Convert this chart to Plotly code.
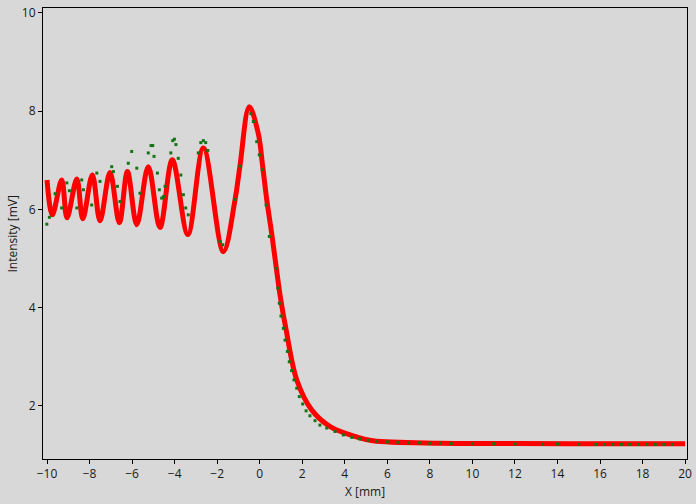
import plotly.graph_objects as go

# Red (fitted) curve: key points
red_x = [-10.0, -9.75, -9.31, -9.06, -8.60, -8.32, -7.87, -7.51, -7.04, -6.60,
         -6.22, -5.78, -5.24, -4.69, -4.11, -3.38, -2.65, -1.71, -1.16, -0.93,
         -0.49, -0.07, 0.14, 0.33, 0.56, 0.77, 0.99, 1.24, 1.74, 2.44, 3.31,
         4.56, 5.33, 8.48, 12.0, 16.0, 20.0]
red_y = [6.60, 5.89, 6.60, 5.83, 6.62, 5.81, 6.70, 5.77, 6.75, 5.73,
         6.77, 5.69, 6.87, 5.63, 7.01, 5.49, 7.25, 5.14, 6.20, 6.88,
         8.09, 7.55, 6.87, 6.20, 5.52, 4.84, 4.16, 3.55, 2.53, 1.92, 1.58,
         1.37, 1.29, 1.24, 1.235, 1.23, 1.23]

green_x = [-10.01, -9.89, -9.62, -9.31, -9.07, -8.95, -8.60, -8.37, -8.29, -7.90,
           -7.66, -7.51, -6.96, -6.88, -6.69, -6.57, -6.18, -6.02, -5.78, -5.63,
           -5.24, -5.11, -5.03, -4.97, -4.81, -4.72, -4.61, -4.53, -4.45, -4.18,
           -4.09, -4.01, -3.94, -3.83, -3.71, -3.59, -3.48, -3.36, -2.89, -2.77,
           -2.65, -2.54, -2.44, -1.87, -1.74, -1.16, -0.93,
           -0.42, -0.30, -0.14, -0.02, 0.12, 0.30, 0.45, 0.77, 0.85,
           0.92, 1.00, 1.11, 1.19, 1.30, 1.39, 1.50, 1.61, 1.74, 1.86,
           2.02, 2.18, 2.36, 2.60, 2.83, 3.15, 3.54, 3.93, 4.33, 4.70,
           5.10, 5.50, 6.00, 6.50, 7.00, 7.50, 8.00, 8.50, 9.00, 10.0,
           11.0, 12.0, 13.3, 14.0, 15.0, 15.8, 16.2, 16.6, 17.0, 17.4,
           17.8, 18.2, 18.6, 19.0, 19.4]
green_y = [5.70, 5.84, 6.32, 6.03, 6.54, 6.38, 6.03, 6.60, 6.40, 6.09,
           6.74, 6.57, 6.87, 6.77, 6.47, 6.16, 6.94, 7.18, 6.84, 6.33,
           7.15, 7.30, 7.30, 7.08, 6.74, 6.40, 6.23, 6.26, 6.47, 7.15,
           7.40, 7.43, 7.32, 7.04, 6.70, 6.30, 6.03, 5.89, 7.15, 7.36,
           7.40, 7.36, 7.20, 5.35, 5.28, 6.20, 6.88,
           7.95, 7.79, 7.38, 7.11, 6.81, 6.09, 5.45, 4.80, 4.40,
           4.09, 3.83, 3.58, 3.34, 3.11, 2.90, 2.72, 2.53, 2.36, 2.19,
           2.04, 1.90, 1.80, 1.70, 1.61, 1.55, 1.48, 1.41, 1.36, 1.33,
           1.30, 1.28, 1.27, 1.26, 1.25, 1.25, 1.24, 1.24, 1.235, 1.23,
           1.23, 1.225, 1.22, 1.225, 1.22, 1.215, 1.215, 1.215, 1.215, 1.215,
           1.215, 1.215, 1.215, 1.215, 1.215]

x_ticks = [-10, -8, -6, -4, -2, 0, 2, 4, 6, 8, 10, 12, 14, 16, 18, 20]
y_ticks = [2, 4, 6, 8, 10]

fig = go.Figure()
fig.add_trace(go.Scatter(x=red_x, y=red_y, mode="lines",
                         line=dict(color="#ff0000", width=5, shape="spline", smoothing=1.0),
                         showlegend=False, hoverinfo="skip"))
fig.add_trace(go.Scatter(x=green_x, y=green_y, mode="markers",
                         marker=dict(color="#157515", size=3, symbol="square"),
                         showlegend=False, hoverinfo="skip"))

axis_common = dict(showgrid=False, zeroline=False, showline=True, linecolor="black",
                   linewidth=1, mirror=True, ticks="outside", ticklen=4,
                   tickcolor="black", automargin=False,
                   tickfont=dict(size=12, color="#1a1a1a"))

fig.update_layout(
    width=696, height=504,
    margin=dict(l=43, r=9, t=8, b=45),
    paper_bgcolor="#d8d8d8", plot_bgcolor="#d8d8d8",
    font=dict(family="Open Sans, Noto Sans, sans-serif", size=12, color="#1a1a1a"),
    xaxis=dict(range=[-10.19, 20.09], tickvals=x_ticks, **axis_common),
    yaxis=dict(range=[0.92, 10.1], tickvals=y_ticks, **axis_common),
    annotations=[
        dict(text="X [mm]", xref="paper", yref="paper", x=0.5, y=-0.071,
             xanchor="center", yanchor="middle", showarrow=False,
             font=dict(size=12, color="#1a1a1a")),
        dict(text="Intensity [mV]", xref="paper", yref="paper", x=-0.0466, y=0.5,
             xanchor="center", yanchor="middle", textangle=-90, showarrow=False,
             font=dict(size=12, color="#1a1a1a")),
    ],
)

fig.write_html("out.html", config={"displayModeBar": False},
               post_script="document.body.style.margin='0';document.body.style.background='#d8d8d8';")
